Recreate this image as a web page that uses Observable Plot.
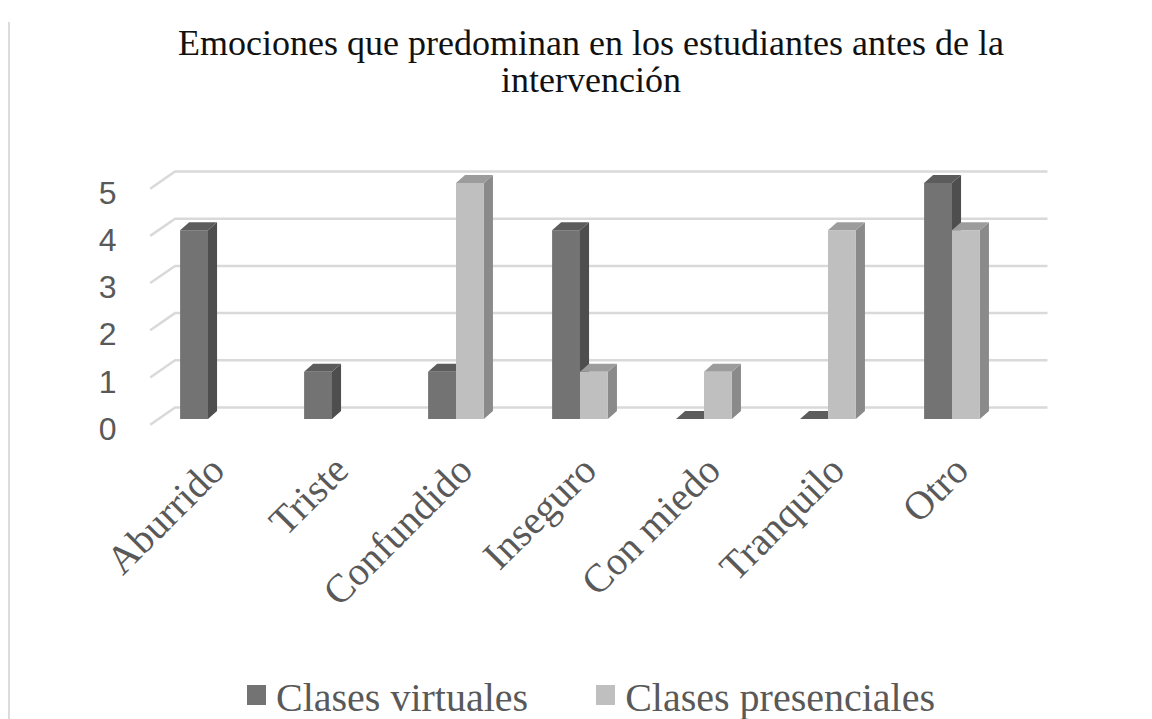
<!DOCTYPE html>
<html>
<head>
<meta charset="utf-8">
<script src="https://cdn.jsdelivr.net/npm/d3@7"></script>
<script src="https://cdn.jsdelivr.net/npm/@observablehq/plot@0.6"></script>
<style>
  html, body { margin: 0; padding: 0; background: #fff; }
  body { width: 1152px; height: 719px; position: relative; overflow: hidden; }
  #border { position: absolute; left: 8px; top: 22px; bottom: 0; width: 2px; background: #dcdcdc; }
  #title { box-sizing: border-box; height: 120px; padding-top: 25px; padding-left: 30px; text-align: center;
           font-family: "Liberation Serif", "Times New Roman", serif; font-size: 36px; line-height: 37px; color: #111; }
  #chart svg { display: block; }
  #legend { box-sizing: border-box; height: 69px; padding-top: 26px; padding-left: 30px; display: flex; justify-content: center; align-items: center;
            font-family: "Liberation Serif", "Times New Roman", serif; font-size: 40px; line-height: 42px; color: #595959; }
  .item { display: flex; align-items: center; margin: 0 34px; }
  .sw { width: 19px; height: 20px; margin-right: 10px; margin-top: -6px; }
</style>
</head>
<body>
<div id="border"></div>
<div id="title">Emociones que predominan en los estudiantes antes de la<br>intervención</div>
<div id="chart"></div>
<div id="legend"></div>
<script>
// ---- data ----
const categorias = ["Aburrido", "Triste", "Confundido", "Inseguro", "Con miedo", "Tranquilo", "Otro"];
const clasesVirtuales = [4, 1, 1, 4, 0, 0, 5];
const clasesPresenciales = [null, null, 5, 1, 1, 4, 4];
const series = ["Clases virtuales", "Clases presenciales"];
const yTicks = [0, 1, 2, 3, 4, 5];

// ---- styling / geometry (in data units) ----
const frontColors = ["#737373", "#bfbfbf"];
const topColors = ["#5c5c5c", "#9c9c9c"];
const sideColors = ["#4e4e4e", "#8a8a8a"];
const BW = 0.225;          // bar width
const DX = 0.073, DY = 0.17; // bar depth
const WALL_X = 0.2, WALL_Y = 0.254; // back wall offset
const FLOOR_LEFT = -0.47;

const bars = [];
categorias.forEach((c, i) => {
  [clasesVirtuales[i], clasesPresenciales[i]].forEach((v, s) => {
    if (v == null) return;
    const x1 = s === 0 ? i - BW : i;
    const x2 = s === 0 ? i : i + BW;
    bars.push({id: `${i}-${s}`, cat: c, s, v, x1, x2});
  });
});
const sides = bars.flatMap(b => [
  {id: b.id, s: b.s, x: b.x2, y1: 0, y2: b.v},
  {id: b.id, s: b.s, x: b.x2 + DX, y1: DY, y2: b.v + DY}
]);
const tops = bars.flatMap(b => [
  {id: b.id, s: b.s, x: b.x1, y1: b.v, y2: b.v},
  {id: b.id, s: b.s, x: b.x1 + DX, y1: b.v, y2: b.v + DY},
  {id: b.id, s: b.s, x: b.x2, y1: b.v, y2: b.v + DY},
  {id: b.id, s: b.s, x: b.x2 + DX, y1: b.v + DY, y2: b.v + DY}
]);

const xMax = categorias.length - 0.5 + WALL_X + 0.07;

const chart = Plot.plot({
  width: 1152,
  height: 530,
  marginLeft: 119,
  marginBottom: 181,
  marginTop: 20,
  marginRight: 20,
  style: {color: "#595959", background: "transparent"},
  x: {type: "linear", domain: [0, categorias.length - 1], range: [208, 952]},
  y: {domain: [0, 5], range: [299, 63]},
  marks: [
    Plot.ruleY(yTicks, {y: d => d + WALL_Y, x1: FLOOR_LEFT + WALL_X, x2: xMax, stroke: "#d9d9d9", strokeWidth: 2.5}),
    Plot.link(yTicks, {x1: FLOOR_LEFT, y1: d => d - 0.11, x2: FLOOR_LEFT + WALL_X, y2: d => d + WALL_Y, stroke: "#d9d9d9", strokeWidth: 2.5}),
    ...[0, 1].flatMap(s => [
      Plot.areaY(sides.filter(d => d.s === s), {x: "x", y1: "y1", y2: "y2", z: "id", fill: sideColors[s]}),
      Plot.areaY(tops.filter(d => d.s === s), {x: "x", y1: "y1", y2: "y2", z: "id", fill: topColors[s]}),
      Plot.rect(bars.filter(d => d.s === s), {x1: "x1", x2: "x2", y1: 0, y2: "v", fill: frontColors[s]})
    ]),
    Plot.axisY({ticks: yTicks, tickFormat: "d", tickSize: 0, tickPadding: 3, dy: 10, fontSize: 32, fontFamily: "Liberation Sans, Arial, sans-serif"}),
    Plot.axisX({ticks: categorias.map((_, i) => i), tickFormat: i => categorias[i], tickRotate: -45, tickSize: 0, tickPadding: 6, dx: 9, dy: -12,
                fontSize: 40, fontFamily: "Liberation Serif, Times New Roman, serif"})
  ]
});
document.getElementById("chart").appendChild(chart);

const legend = document.getElementById("legend");
series.forEach((name, s) => {
  const item = document.createElement("div");
  item.className = "item";
  const sw = document.createElement("span");
  sw.className = "sw";
  sw.style.background = frontColors[s];
  const t = document.createElement("span");
  t.textContent = name;
  item.appendChild(sw);
  item.appendChild(t);
  legend.appendChild(item);
});
</script>
</body>
</html>
